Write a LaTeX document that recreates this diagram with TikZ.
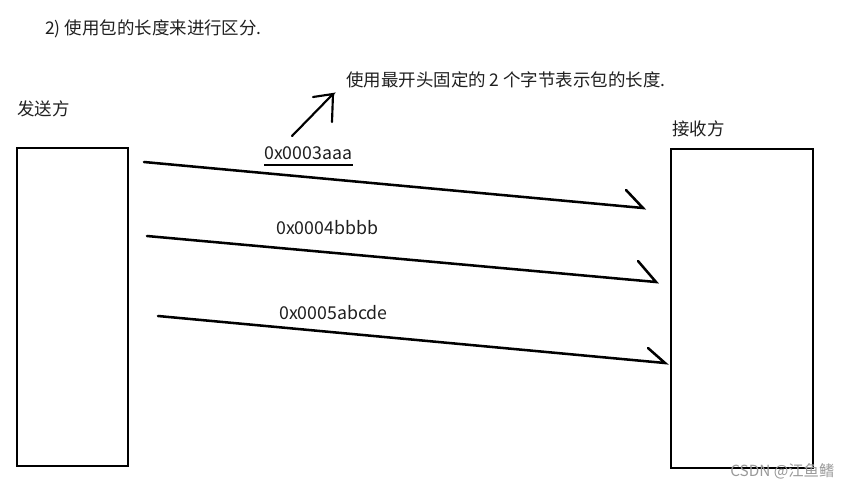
\documentclass[tikz,border=0pt]{standalone}
\usepackage{fontspec}
\setmainfont{Noto Sans CJK SC}
\begin{document}
\begin{tikzpicture}[x=0.75pt,y=-0.75pt,
  txt/.style={inner sep=0pt, anchor=west, text=black!88, font=\fontsize{13.1pt}{15pt}\selectfont},
  lat/.style={inner sep=0pt, anchor=west, text=black!88, font=\fontsize{13.3pt}{15pt}\selectfont},
  box/.style={draw, line width=2.0pt, inner sep=0pt},
  stroke/.style={line width=1.9pt, line cap=round},
  wm/.style={inner sep=0pt, anchor=west, text=black!40, font=\fontsize{11.5pt}{13pt}\selectfont}]
\useasboundingbox (0,0) rectangle (846,487);
% texts
\node[txt] (title) at (45,29) {2) 使用包的长度来进行区分.};
\node[txt] (note) at (346,80) {使用最开头固定的 2 个字节表示包的长度.};
\node[txt] (snd) at (17,109) {发送方};
\node[txt] (rcv) at (672,129) {接收方};
% boxes
\node[box, minimum width=83.25pt, minimum height=238.5pt] (L) at (72.5,307) {};
\node[box, minimum width=106.5pt, minimum height=239.25pt] (R) at (742,308.5) {};
% packet labels
\node[lat] (p1) at (264,153) {0x0003aaa};
\node[lat] (p2) at (276,228) {0x0004bbbb};
\node[lat] (p3) at (279,313) {0x0005abcde};
\draw[line width=1.1pt] ([yshift=-4pt]p1.south west) -- ([yshift=-4pt]p1.south east);
% hand-drawn pointer
\coordinate (h0) at (292,136);
\coordinate (h1) at (333,94);
\draw[stroke, line width=1.6pt] (h0) -- (h1) -- (313,97);
\draw[stroke, line width=1.6pt] (h1) -- (332,122);
% arrows
\coordinate (a1s) at (144,162); \coordinate (a1e) at (643,208);
\coordinate (a2s) at (147,236); \coordinate (a2e) at (656,282);
\coordinate (a3s) at (158,316); \coordinate (a3e) at (665,363);
\draw[stroke] (a1s) -- (a1e) -- ++(-17,-18);
\draw[stroke] (a2s) -- (a2e) -- ++(-18,-21);
\draw[stroke] (a3s) -- (a3e) -- ++(-17,-15);
% watermark
\node[wm] (csdn) at (730,471) {CSDN @江鱼鳍};
\end{tikzpicture}
\end{document}
